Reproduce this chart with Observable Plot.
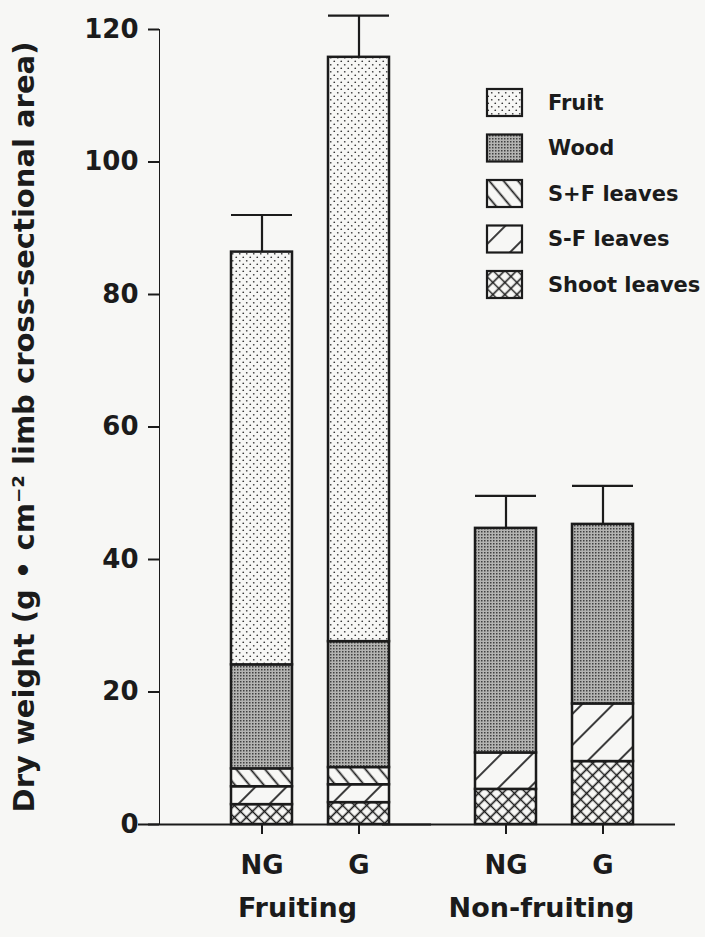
<!DOCTYPE html>
<html>
<head>
<meta charset="utf-8">
<script src="https://cdn.jsdelivr.net/npm/d3@7"></script>
<script src="https://cdn.jsdelivr.net/npm/@observablehq/plot@0.6"></script>
<style>
  html, body { margin: 0; padding: 0; background: #f7f7f5; }
  #chart { width: 705px; height: 937px; position: relative; }
  #chart g[aria-label*="axis"] line, #chart g[aria-label*="axis"] path { stroke-width: 2px; }
</style>
</head>
<body>
<div id="chart"></div>
<script>
// ---- data ----
const groups = ["Fruiting", "Fruiting", "Non-fruiting", "Non-fruiting"];
const treatments = ["NG", "G", "NG", "G"];
const groupLabels = ["Fruiting", "Non-fruiting"];
const treatmentLabels = ["NG", "G"];
const parts = ["Fruit", "Wood", "S+F leaves", "S-F leaves", "Shoot leaves"]; // legend order
const stackOrder = ["Shoot leaves", "S-F leaves", "S+F leaves", "Wood", "Fruit"]; // bottom to top
const shootLeaves = [3.0, 3.3, 5.3, 9.5];
const sfMinusLeaves = [2.7, 2.7, 5.5, 8.7];
const sfPlusLeaves = [2.7, 2.6, 0, 0];
const wood = [15.7, 19.0, 33.9, 27.1];
const fruit = [62.3, 88.2, 0, 0];
const standardError = [5.6, 6.3, 4.9, 5.8];
const yTicks = [0, 20, 40, 60, 80, 100, 120];
const yLabel = "Dry weight (g \u2022 cm\u207B\u00B2 limb cross-sectional area)";

const seriesByPart = {
  "Fruit": fruit, "Wood": wood, "S+F leaves": sfPlusLeaves,
  "S-F leaves": sfMinusLeaves, "Shoot leaves": shootLeaves
};
const patternIds = {
  "Fruit": "pat-fruit", "Wood": "pat-wood", "S+F leaves": "pat-sfplus",
  "S-F leaves": "pat-sfminus", "Shoot leaves": "pat-shoot"
};

const rows = [];
groups.forEach((g, i) => {
  stackOrder.forEach(p => {
    const v = seriesByPart[p][i];
    if (v > 0) rows.push({group: g, treatment: treatments[i], part: p, value: v});
  });
});
const totals = groups.map((g, i) => ({
  group: g, treatment: treatments[i],
  total: stackOrder.reduce((s, p) => s + seriesByPart[p][i], 0),
  se: standardError[i]
}));

const ink = "#1b1b1b";
const paper = "#f7f7f5";
const font = "'DejaVu Sans', Verdana, sans-serif";

const plot = Plot.plot({
  width: 705,
  height: 937,
  marginLeft: 159,
  marginRight: 62,
  marginTop: 29,
  marginBottom: 113,
  style: {
    fontFamily: font,
    fontWeight: "bold",
    fontSize: "26px",
    color: ink,
    background: "transparent",
    overflow: "visible"
  },
  fx: {domain: groupLabels, paddingInner: 0.0164, paddingOuter: 0, axis: null, label: null},
  x: {domain: treatmentLabels, paddingInner: 0.367, paddingOuter: 0.408, align: 0.8875,
      tickSize: 10, tickPadding: 21, label: null},
  y: {domain: [0, 120], ticks: yTicks, tickSize: 11, tickPadding: 10, line: true,
      label: yLabel, labelAnchor: "center", labelOffset: 146, labelArrow: "none"},
  color: {domain: parts, range: parts.map(p => `url(#${patternIds[p]})`)},
  marks: [
    Plot.barY(rows, {fx: "group", x: "treatment", y: "value", fill: "part", order: stackOrder,
      stroke: ink, strokeWidth: 2.5}),
    Plot.ruleX(totals, {fx: "group", x: "treatment", y1: "total", y2: d => d.total + d.se,
      stroke: ink, strokeWidth: 2.2}),
    Plot.tickY(totals, {fx: "group", x: "treatment", y: d => d.total + d.se,
      stroke: ink, strokeWidth: 2.2}),
    Plot.ruleY([0], {insetLeft: -21, insetRight: -32, stroke: ink, strokeWidth: 2.2}),
    Plot.text(groupLabels, {fx: d => d, text: d => d, frameAnchor: "bottom", dy: 92, dx: 18,
      fontSize: 27, fontWeight: "bold", fill: ink})
  ]
});

const svg = d3.select(plot);

// axis title: strip any arrow, set its own size
svg.selectAll("text").each(function() {
  const t = d3.select(this);
  if (t.text().includes("Dry weight")) {
    t.text(yLabel).attr("font-size", 29);
  }
});

// ---- fill patterns ----
const defs = svg.insert("defs", ":first-child");
function pattern(id, w, h, transform) {
  const p = defs.append("pattern").attr("id", id).attr("patternUnits", "userSpaceOnUse")
    .attr("width", w).attr("height", h);
  if (transform) p.attr("patternTransform", transform);
  return p;
}
let p = pattern("pat-fruit", 7, 7);
p.append("rect").attr("width", 7).attr("height", 7).attr("fill", paper);
p.append("circle").attr("cx", 1.75).attr("cy", 1.75).attr("r", 0.85).attr("fill", "#333");
p.append("circle").attr("cx", 5.25).attr("cy", 5.25).attr("r", 0.85).attr("fill", "#333");

p = pattern("pat-wood", 3, 3);
p.append("rect").attr("width", 3).attr("height", 3).attr("fill", "#b4b4b2");
p.append("rect").attr("width", 1.5).attr("height", 1.5).attr("fill", "#404040");

p = pattern("pat-sfplus", 11, 11, "rotate(-40)");
p.append("rect").attr("width", 11).attr("height", 11).attr("fill", paper);
p.append("line").attr("x1", 5.5).attr("x2", 5.5).attr("y1", 0).attr("y2", 11)
  .attr("stroke", ink).attr("stroke-width", 1.7);

p = pattern("pat-sfminus", 22, 22, "rotate(45)");
p.append("rect").attr("width", 22).attr("height", 22).attr("fill", paper);
p.append("line").attr("x1", 11).attr("x2", 11).attr("y1", 0).attr("y2", 22)
  .attr("stroke", ink).attr("stroke-width", 1.7);

p = pattern("pat-shoot", 8.5, 8.5, "rotate(45)");
p.append("rect").attr("width", 8.5).attr("height", 8.5).attr("fill", paper);
p.append("path").attr("d", "M4.25,0V8.5M0,4.25H8.5")
  .attr("stroke", ink).attr("stroke-width", 1.6).attr("fill", "none");

// ---- legend (inside the plot area, top right) ----
const legend = svg.append("g").attr("aria-label", "legend")
  .attr("font-family", font).attr("font-size", 21).attr("font-weight", "bold")
  .attr("fill", ink).attr("text-anchor", "start");
parts.forEach((part, i) => {
  const cy = 102 + i * 45.5;
  legend.append("rect").attr("x", 487).attr("y", cy - 13).attr("width", 35).attr("height", 27)
    .attr("fill", `url(#${patternIds[part]})`).attr("stroke", ink).attr("stroke-width", 2.2);
  legend.append("text").attr("x", 548).attr("y", cy).attr("dy", "0.36em").text(part);
});

document.getElementById("chart").appendChild(plot);
</script>
</body>
</html>
